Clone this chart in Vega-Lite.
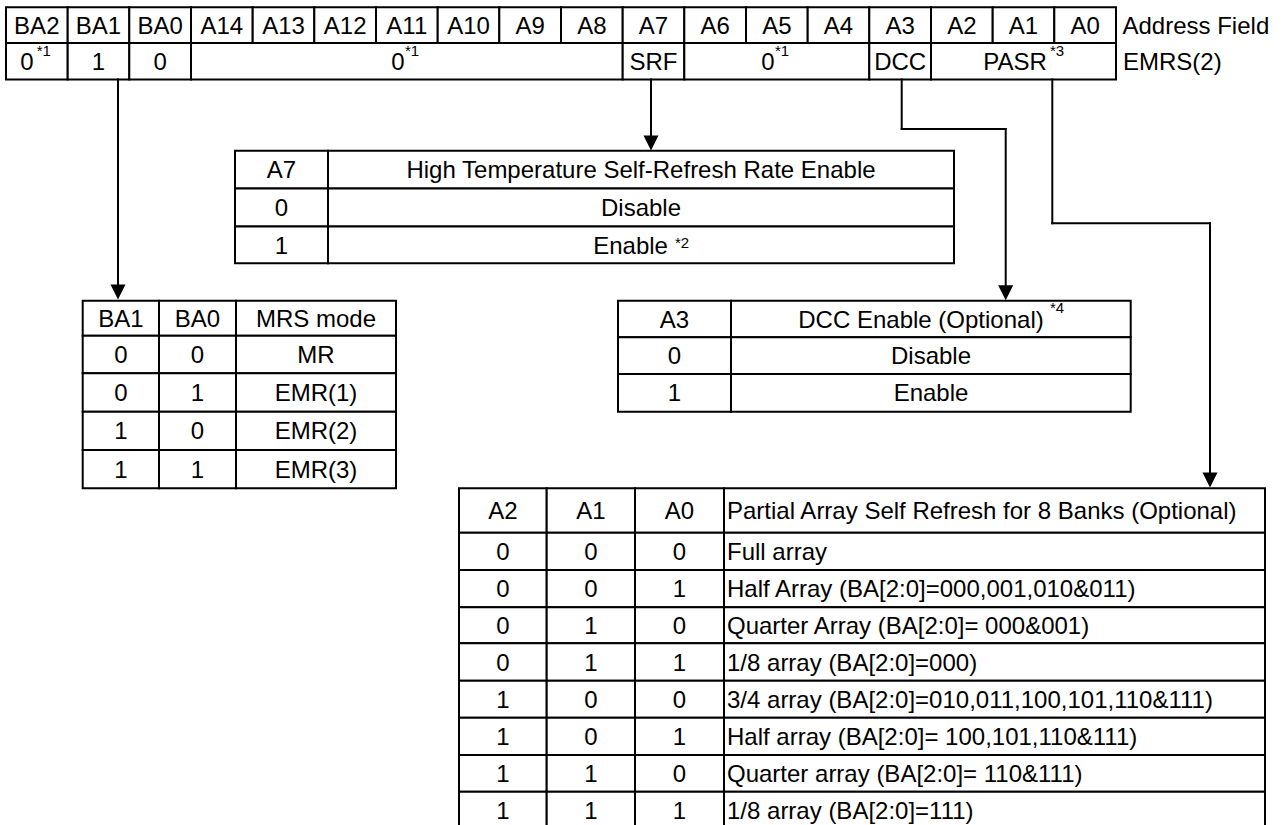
{
  "$schema": "https://vega.github.io/schema/vega-lite/v6.json",
  "width": 1281,
  "height": 825,
  "padding": 0,
  "autosize": {"type": "fit", "contains": "padding"},
  "background": "white",
  "config": {"view": {"stroke": null}},
  "datasets": {
    "cells": [
      {"x":6,"x2":67.7,"y":7.3,"y2":43},{"x":67.7,"x2":129.3,"y":7.3,"y2":43},{"x":129.3,"x2":191,"y":7.3,"y2":43},
      {"x":191,"x2":252.7,"y":7.3,"y2":43},{"x":252.7,"x2":314.3,"y":7.3,"y2":43},{"x":314.3,"x2":376,"y":7.3,"y2":43},
      {"x":376,"x2":437.7,"y":7.3,"y2":43},{"x":437.7,"x2":499.3,"y":7.3,"y2":43},{"x":499.3,"x2":561,"y":7.3,"y2":43},
      {"x":561,"x2":622.7,"y":7.3,"y2":43},{"x":622.7,"x2":684.3,"y":7.3,"y2":43},{"x":684.3,"x2":746,"y":7.3,"y2":43},
      {"x":746,"x2":807.7,"y":7.3,"y2":43},{"x":807.7,"x2":869.3,"y":7.3,"y2":43},{"x":869.3,"x2":931,"y":7.3,"y2":43},
      {"x":931,"x2":992.7,"y":7.3,"y2":43},{"x":992.7,"x2":1054.3,"y":7.3,"y2":43},{"x":1054.3,"x2":1116,"y":7.3,"y2":43},
      {"x":6,"x2":67.7,"y":43,"y2":79.5},{"x":67.7,"x2":129.3,"y":43,"y2":79.5},{"x":129.3,"x2":191,"y":43,"y2":79.5},
      {"x":191,"x2":622.7,"y":43,"y2":79.5},{"x":622.7,"x2":684.3,"y":43,"y2":79.5},{"x":684.3,"x2":869.3,"y":43,"y2":79.5},
      {"x":869.3,"x2":931,"y":43,"y2":79.5},{"x":931,"x2":1116,"y":43,"y2":79.5},

      {"x":235,"x2":328,"y":150.7,"y2":188.5},{"x":328,"x2":954,"y":150.7,"y2":188.5},
      {"x":235,"x2":328,"y":188.5,"y2":226.5},{"x":328,"x2":954,"y":188.5,"y2":226.5},
      {"x":235,"x2":328,"y":226.5,"y2":263.3},{"x":328,"x2":954,"y":226.5,"y2":263.3},

      {"x":82.7,"x2":159,"y":300.7,"y2":335.7},{"x":159,"x2":236,"y":300.7,"y2":335.7},{"x":236,"x2":396,"y":300.7,"y2":335.7},
      {"x":82.7,"x2":159,"y":335.7,"y2":373.3},{"x":159,"x2":236,"y":335.7,"y2":373.3},{"x":236,"x2":396,"y":335.7,"y2":373.3},
      {"x":82.7,"x2":159,"y":373.3,"y2":411.7},{"x":159,"x2":236,"y":373.3,"y2":411.7},{"x":236,"x2":396,"y":373.3,"y2":411.7},
      {"x":82.7,"x2":159,"y":411.7,"y2":450},{"x":159,"x2":236,"y":411.7,"y2":450},{"x":236,"x2":396,"y":411.7,"y2":450},
      {"x":82.7,"x2":159,"y":450,"y2":488.3},{"x":159,"x2":236,"y":450,"y2":488.3},{"x":236,"x2":396,"y":450,"y2":488.3},

      {"x":618,"x2":731,"y":300.7,"y2":337.3},{"x":731,"x2":1130.7,"y":300.7,"y2":337.3},
      {"x":618,"x2":731,"y":337.3,"y2":374},{"x":731,"x2":1130.7,"y":337.3,"y2":374},
      {"x":618,"x2":731,"y":374,"y2":411.7},{"x":731,"x2":1130.7,"y":374,"y2":411.7},

      {"x":459,"x2":546.7,"y":488.3,"y2":532.7},{"x":546.7,"x2":635,"y":488.3,"y2":532.7},{"x":635,"x2":724,"y":488.3,"y2":532.7},{"x":724,"x2":1265,"y":488.3,"y2":532.7},
      {"x":459,"x2":546.7,"y":532.7,"y2":570},{"x":546.7,"x2":635,"y":532.7,"y2":570},{"x":635,"x2":724,"y":532.7,"y2":570},{"x":724,"x2":1265,"y":532.7,"y2":570},
      {"x":459,"x2":546.7,"y":570,"y2":607.3},{"x":546.7,"x2":635,"y":570,"y2":607.3},{"x":635,"x2":724,"y":570,"y2":607.3},{"x":724,"x2":1265,"y":570,"y2":607.3},
      {"x":459,"x2":546.7,"y":607.3,"y2":643.3},{"x":546.7,"x2":635,"y":607.3,"y2":643.3},{"x":635,"x2":724,"y":607.3,"y2":643.3},{"x":724,"x2":1265,"y":607.3,"y2":643.3},
      {"x":459,"x2":546.7,"y":643.3,"y2":680.7},{"x":546.7,"x2":635,"y":643.3,"y2":680.7},{"x":635,"x2":724,"y":643.3,"y2":680.7},{"x":724,"x2":1265,"y":643.3,"y2":680.7},
      {"x":459,"x2":546.7,"y":680.7,"y2":717.7},{"x":546.7,"x2":635,"y":680.7,"y2":717.7},{"x":635,"x2":724,"y":680.7,"y2":717.7},{"x":724,"x2":1265,"y":680.7,"y2":717.7},
      {"x":459,"x2":546.7,"y":717.7,"y2":755},{"x":546.7,"x2":635,"y":717.7,"y2":755},{"x":635,"x2":724,"y":717.7,"y2":755},{"x":724,"x2":1265,"y":717.7,"y2":755},
      {"x":459,"x2":546.7,"y":755,"y2":791.7},{"x":546.7,"x2":635,"y":755,"y2":791.7},{"x":635,"x2":724,"y":755,"y2":791.7},{"x":724,"x2":1265,"y":755,"y2":791.7},
      {"x":459,"x2":546.7,"y":791.7,"y2":830},{"x":546.7,"x2":635,"y":791.7,"y2":830},{"x":635,"x2":724,"y":791.7,"y2":830},{"x":724,"x2":1265,"y":791.7,"y2":830}
    ],
    "lines": [
      {"x":118,"y":79.5,"x2":118,"y2":292},
      {"x":651,"y":79.5,"x2":651,"y2":143},
      {"x":901.7,"y":79.5,"x2":901.7,"y2":129},
      {"x":901.7,"y":129,"x2":1005.7,"y2":129},
      {"x":1005.7,"y":129,"x2":1005.7,"y2":293},
      {"x":1052.3,"y":79.5,"x2":1052.3,"y2":223.3},
      {"x":1052.3,"y":223.3,"x2":1210,"y2":223.3},
      {"x":1210,"y":223.3,"x2":1210,"y2":480}
    ],
    "heads": [
      {"x":118,"y":299.5},
      {"x":651,"y":150.5},
      {"x":1005.7,"y":300.2},
      {"x":1210,"y":487.5}
    ],
    "ctext": [
      {"x":36.8,"y":25.2,"t":"BA2"},{"x":98.5,"y":25.2,"t":"BA1"},{"x":160.2,"y":25.2,"t":"BA0"},
      {"x":221.8,"y":25.2,"t":"A14"},{"x":283.5,"y":25.2,"t":"A13"},{"x":345.2,"y":25.2,"t":"A12"},
      {"x":406.8,"y":25.2,"t":"A11"},{"x":468.5,"y":25.2,"t":"A10"},{"x":530.2,"y":25.2,"t":"A9"},
      {"x":591.8,"y":25.2,"t":"A8"},{"x":653.5,"y":25.2,"t":"A7"},{"x":715.2,"y":25.2,"t":"A6"},
      {"x":776.8,"y":25.2,"t":"A5"},{"x":838.5,"y":25.2,"t":"A4"},{"x":900.2,"y":25.2,"t":"A3"},
      {"x":961.8,"y":25.2,"t":"A2"},{"x":1023.5,"y":25.2,"t":"A1"},{"x":1085.2,"y":25.2,"t":"A0"},
      {"x":26.8,"y":61.2,"t":"0"},{"x":98.5,"y":61.2,"t":"1"},{"x":160.2,"y":61.2,"t":"0"},
      {"x":397.8,"y":61.2,"t":"0"},{"x":653.5,"y":61.2,"t":"SRF"},{"x":767.8,"y":61.2,"t":"0"},
      {"x":900.2,"y":61.2,"t":"DCC"},{"x":1015,"y":61.2,"t":"PASR"},

      {"x":281.5,"y":169.6,"t":"A7"},{"x":641,"y":169.6,"t":"High Temperature Self-Refresh Rate Enable"},
      {"x":281.5,"y":207.5,"t":"0"},{"x":641,"y":207.5,"t":"Disable"},
      {"x":281.5,"y":245,"t":"1"},{"x":630.6,"y":245,"t":"Enable"},

      {"x":120.9,"y":318.2,"t":"BA1"},{"x":197.5,"y":318.2,"t":"BA0"},{"x":316,"y":318.2,"t":"MRS mode"},
      {"x":120.9,"y":354.5,"t":"0"},{"x":197.5,"y":354.5,"t":"0"},{"x":316,"y":354.5,"t":"MR"},
      {"x":120.9,"y":392.5,"t":"0"},{"x":197.5,"y":392.5,"t":"1"},{"x":316,"y":392.5,"t":"EMR(1)"},
      {"x":120.9,"y":430.8,"t":"1"},{"x":197.5,"y":430.8,"t":"0"},{"x":316,"y":430.8,"t":"EMR(2)"},
      {"x":120.9,"y":469.2,"t":"1"},{"x":197.5,"y":469.2,"t":"1"},{"x":316,"y":469.2,"t":"EMR(3)"},

      {"x":674.5,"y":319,"t":"A3"},{"x":921,"y":319,"t":"DCC Enable (Optional)"},
      {"x":674.5,"y":355.7,"t":"0"},{"x":931,"y":355.7,"t":"Disable"},
      {"x":674.5,"y":392.8,"t":"1"},{"x":931,"y":392.8,"t":"Enable"},

      {"x":502.8,"y":510.5,"t":"A2"},{"x":590.8,"y":510.5,"t":"A1"},{"x":679.5,"y":510.5,"t":"A0"},
      {"x":502.8,"y":551.3,"t":"0"},{"x":590.8,"y":551.3,"t":"0"},{"x":679.5,"y":551.3,"t":"0"},
      {"x":502.8,"y":588.7,"t":"0"},{"x":590.8,"y":588.7,"t":"0"},{"x":679.5,"y":588.7,"t":"1"},
      {"x":502.8,"y":625.3,"t":"0"},{"x":590.8,"y":625.3,"t":"1"},{"x":679.5,"y":625.3,"t":"0"},
      {"x":502.8,"y":662,"t":"0"},{"x":590.8,"y":662,"t":"1"},{"x":679.5,"y":662,"t":"1"},
      {"x":502.8,"y":699.2,"t":"1"},{"x":590.8,"y":699.2,"t":"0"},{"x":679.5,"y":699.2,"t":"0"},
      {"x":502.8,"y":736.3,"t":"1"},{"x":590.8,"y":736.3,"t":"0"},{"x":679.5,"y":736.3,"t":"1"},
      {"x":502.8,"y":773.3,"t":"1"},{"x":590.8,"y":773.3,"t":"1"},{"x":679.5,"y":773.3,"t":"0"},
      {"x":502.8,"y":810.3,"t":"1"},{"x":590.8,"y":810.3,"t":"1"},{"x":679.5,"y":810.3,"t":"1"}
    ],
    "ltext": [
      {"x":1122.5,"y":25.2,"t":"Address Field"},
      {"x":1123,"y":61.2,"t":"EMRS(2)"},
      {"x":727,"y":510.5,"t":"Partial Array Self Refresh for 8 Banks (Optional)"},
      {"x":727,"y":551.3,"t":"Full array"},
      {"x":727,"y":588.7,"t":"Half Array (BA[2:0]=000,001,010&011)"},
      {"x":727,"y":625.3,"t":"Quarter Array (BA[2:0]= 000&001)"},
      {"x":727,"y":662,"t":"1/8 array (BA[2:0]=000)"},
      {"x":727,"y":699.2,"t":"3/4 array (BA[2:0]=010,011,100,101,110&111)"},
      {"x":727,"y":736.3,"t":"Half array (BA[2:0]= 100,101,110&111)"},
      {"x":727,"y":773.3,"t":"Quarter array (BA[2:0]= 110&111)"},
      {"x":727,"y":810.3,"t":"1/8 array (BA[2:0]=111)"}
    ],
    "sup": [
      {"x":36.7,"y":55.5,"t":"*1"},
      {"x":405,"y":55.5,"t":"*1"},
      {"x":775,"y":55.5,"t":"*1"},
      {"x":1050,"y":55.5,"t":"*3"},
      {"x":675,"y":247.7,"t":"*2"},
      {"x":1050,"y":313.3,"t":"*4"}
    ]
  },
  "encoding": {
    "x": {"field": "x", "type": "quantitative", "scale": {"domain": [0, 1281], "nice": false, "zero": false}, "axis": null},
    "y": {"field": "y", "type": "quantitative", "scale": {"domain": [0, 825], "nice": false, "zero": false, "reverse": true}, "axis": null}
  },
  "layer": [
    {
      "data": {"name": "cells"},
      "mark": {"type": "rect", "fill": "white", "stroke": "black", "strokeWidth": 2, "clip": true},
      "encoding": {"x2": {"field": "x2"}, "y2": {"field": "y2"}}
    },
    {
      "data": {"name": "lines"},
      "mark": {"type": "rule", "color": "black", "strokeWidth": 2, "strokeCap": "square"},
      "encoding": {"x2": {"field": "x2"}, "y2": {"field": "y2"}}
    },
    {
      "data": {"name": "heads"},
      "mark": {"type": "point", "shape": "M-1,-2L1,-2L0,0Z", "size": 225, "filled": true, "color": "black", "opacity": 1, "strokeWidth": 0}
    },
    {
      "data": {"name": "ctext"},
      "mark": {"type": "text", "font": "Liberation Sans", "fontSize": 24, "align": "center", "baseline": "alphabetic", "dy": 8.5, "color": "black"},
      "encoding": {"text": {"field": "t"}}
    },
    {
      "data": {"name": "ltext"},
      "mark": {"type": "text", "font": "Liberation Sans", "fontSize": 24, "align": "left", "baseline": "alphabetic", "dy": 8.5, "color": "black"},
      "encoding": {"text": {"field": "t"}}
    },
    {
      "data": {"name": "sup"},
      "mark": {"type": "text", "font": "Liberation Sans", "fontSize": 15, "align": "left", "baseline": "alphabetic", "color": "black"},
      "encoding": {"text": {"field": "t"}}
    }
  ]
}
